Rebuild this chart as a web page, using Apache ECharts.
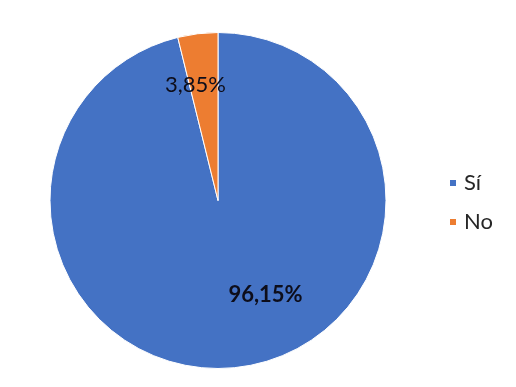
<!DOCTYPE html>
<html><head><meta charset="utf-8">
<script src="https://cdn.jsdelivr.net/npm/echarts@6/dist/echarts.min.js"></script>
<style>html,body{margin:0;padding:0;background:#fff}#c{width:516px;height:387px}</style>
</head><body><div id="c"></div>
<script>
const categories = ['Sí', 'No'];
const values = [96.15, 3.85];
const colors = ['#4472C4', '#ED7D31'];
const labelOffsets = [[37, 8], [-12, -29]];
const labelWeights = ['bold', 'normal'];

const chart = echarts.init(document.getElementById('c'), null, {renderer: 'canvas'});
chart.setOption({
  animation: false,
  backgroundColor: '#fff',
  legend: {
    orient: 'vertical',
    left: 443,
    top: 166,
    itemWidth: 8,
    itemHeight: 8,
    itemGap: 15,
    icon: 'rect',
    textStyle: {fontFamily: 'Lato', fontSize: 22, lineHeight: 24, color: '#262626', padding: [0, 0, 0, 2]},
    data: categories
  },
  series: [{
    type: 'pie',
    center: [218, 200.5],
    radius: [0, 168],
    startAngle: 90,
    clockwise: true,
    itemStyle: {borderColor: '#fff', borderWidth: 1},
    label: {show: true, position: 'inside', fontFamily: 'Lato', fontSize: 22, color: '#0d0d1a'},
    labelLine: {show: false},
    emphasis: {disabled: true},
    data: categories.map((c, i) => ({
      name: c,
      value: values[i],
      itemStyle: {color: colors[i]},
      label: {
        formatter: values[i].toFixed(2).replace('.', ',') + '%',
        offset: labelOffsets[i],
        fontWeight: labelWeights[i]
      }
    }))
  }]
});
</script></body></html>
